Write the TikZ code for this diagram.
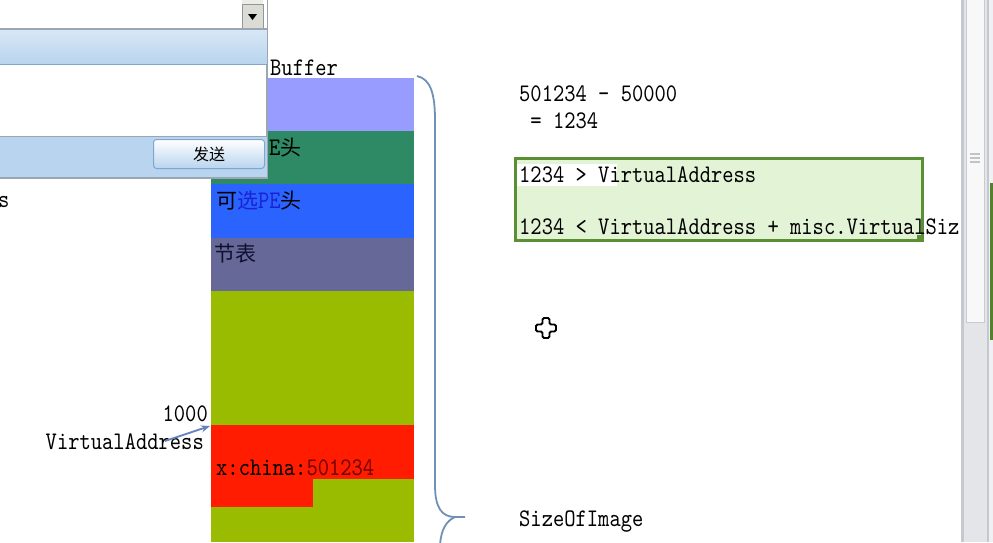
\documentclass[tikz,border=0pt]{standalone}
\usepackage{fontspec}
\newfontfamily\codefont[Extension=.otf, FakeStretch=0.85]{lmmono10-regular}
\newfontfamily\cjk{Noto Sans CJK SC}
\usetikzlibrary{arrows.meta}
\definecolor{lav}{HTML}{989CFF}
\definecolor{seag}{HTML}{2E8A64}
\definecolor{pblue}{HTML}{2B63FF}
\definecolor{slate}{HTML}{666898}
\definecolor{ygreen}{HTML}{99BB00}
\definecolor{pred}{HTML}{FF1C00}
\definecolor{bracec}{HTML}{7090B8}
\definecolor{boxfill}{HTML}{E3F3D6}
\definecolor{boxline}{HTML}{5B8F34}
\definecolor{winblue}{HTML}{B8D4EE}
\definecolor{winblueL}{HTML}{D8E7F6}
\definecolor{winline}{HTML}{9AA6B4}
\definecolor{btnline}{HTML}{7FA6D0}
\definecolor{sbgray}{HTML}{E4E5E8}
\definecolor{sbline}{HTML}{C5C8CF}
\definecolor{navytxt}{HTML}{101030}
\definecolor{thumbfill}{HTML}{F8F8F9}
\definecolor{thumbline}{HTML}{C8CCD2}
\definecolor{gripc}{HTML}{C0C4CA}
\definecolor{edgefill}{HTML}{F0F0F2}
\definecolor{sbtrack}{HTML}{ECECE8}
\definecolor{sbbtn}{HTML}{DCDCD6}
\definecolor{sbbtnline}{HTML}{969696}
\definecolor{selblue}{HTML}{1A22D8}
\begin{document}
\begin{tikzpicture}[x=1pt,y=-1pt,
  code/.style={font={\codefont\fontsize{25.3}{30}\selectfont}, inner sep=0pt, anchor=west},
  cjkt/.style={font={\cjk\fontsize{21}{25}\selectfont}, inner sep=0pt, anchor=west}]
\useasboundingbox (0,0) rectangle (993,542);
\fill[white] (0,0) rectangle (993,542);
% memory bars
\fill[lav] (211,78) rectangle (414,131);
\fill[seag] (211,131) rectangle (414,184);
\fill[pblue] (211,184) rectangle (414,238);
\fill[slate] (211,238) rectangle (414,291);
\fill[ygreen] (211,291) rectangle (414,542);
\fill[pred] (211,425) rectangle (414,479);
\fill[pred] (211,479) rectangle (313,507);
% texts in bars
\node[cjkt] (pe) at (269,148) {{\codefont\fontsize{25.3}{30}\selectfont E}头};
\node[cjkt] (ope) at (216,201) {可{\color{selblue}选{\codefont\fontsize{25.3}{30}\selectfont PE}}头};
\node[cjkt, text=navytxt] (sec) at (214,254) {节表};
\node[code] (xc) at (216,468) {x:china:{\color{red!45!black}501234}};
% left labels
\node[code, anchor=east] (n1000) at (208,414) {1000};
\node[code, anchor=east] (va) at (204,442) {VirtualAddress};
\coordinate (vaS) at (165,441);
\coordinate (vaE) at (210,426);
\draw[-{Stealth[length=9pt,width=7pt]}, bracec!90!blue, line width=1.8pt] (vaS) -- (vaE);
% brace
\draw[bracec, line width=1.8pt] (417,76) .. controls (431,79) and (435,95) .. (435,120) -- (435,485)
   .. controls (435,508) and (442,517) .. (455,517) -- (465,517);
\draw[bracec, line width=1.8pt] (455,517) .. controls (446,521) and (441,530) .. (440,545);
% right texts
\node[code] (sub) at (519,94) {501234 - 50000};
\node[code] (eq) at (519,121) {\ = 1234};
\node[draw=boxline, fill=boxfill, line width=3pt, minimum width=407pt, minimum height=82pt, anchor=north west, inner sep=0pt] (cbox) at (514,157) {};
\fill[white] (517,164) rectangle (617,186);
\fill[boxline] (917,235) rectangle (924,242);
\node[code] (c1) at (519,175) {1234 > VirtualAddress};
\node[code] (c2) at (519,227) {1234 < VirtualAddress + misc.VirtualSiz};
\node[code] (soi) at (519,522) {SizeOfImage};
% move cursor
\draw[black, fill=white, line width=1.8pt, rounded corners=1.5pt, shift={(546,328)}]
  (-3.5,-10) -- (3.5,-10) -- (3.5,-3.5) -- (10,-3.5) -- (10,3.5) -- (3.5,3.5) -- (3.5,10)
  -- (-3.5,10) -- (-3.5,3.5) -- (-10,3.5) -- (-10,-3.5) -- (-3.5,-3.5) -- cycle;
% right scrollbar
\fill[sbline] (961,0) rectangle (964,542);
\fill[sbgray] (964,0) rectangle (987,542);
\draw[fill=thumbfill, draw=thumbline, line width=1pt] (966,-2) rectangle (984,322);
\foreach \yy in {154,158,162} \draw[gripc, line width=1.3pt] (970,\yy) -- (980,\yy);
\fill[sbline] (987,0) rectangle (988.5,542);
\fill[edgefill] (988.5,0) rectangle (993,542);
\fill[boxline!90!black] (989.5,183) rectangle (993,340);
% chat window overlay
\fill[white] (0,0) rectangle (267,178);
\fill[sbtrack] (242,0) rectangle (263,28);
\draw[fill=sbbtn, draw=sbbtnline, line width=0.8pt] (242,4) rectangle (263,28);
\fill[black] (248,14) -- (257,14) -- (252.5,20) -- cycle;
\draw[winline, line width=1.2pt] (0,29) -- (267,29);
\shade[top color=winblueL, bottom color=winblue] (0,30) rectangle (267,64);
\draw[btnline, line width=1pt] (0,64.5) -- (267,64.5);
\fill[white] (0,65) rectangle (266,136);
\draw[winline, line width=1pt] (266,65) -- (266,136);
\fill[winblue] (0,137) rectangle (267,177);
\draw[winline, line width=1pt] (0,136.5) -- (267,136.5);
\node[draw=btnline, line width=1pt, rounded corners=3pt, top color=white, bottom color=winblue, minimum width=111pt, minimum height=29pt, anchor=north west, inner sep=0pt, font={\cjk\fontsize{16}{19}\selectfont}] (send) at (153,139) {发送};
\draw[winline, line width=1.5pt] (0,178) -- (267.5,178) -- (267.5,0);
% labels outside window
\node[code] (buf) at (270,68) {Buffer};
\node[code] (sfrag) at (-2,202) {s};
\end{tikzpicture}
\end{document}
